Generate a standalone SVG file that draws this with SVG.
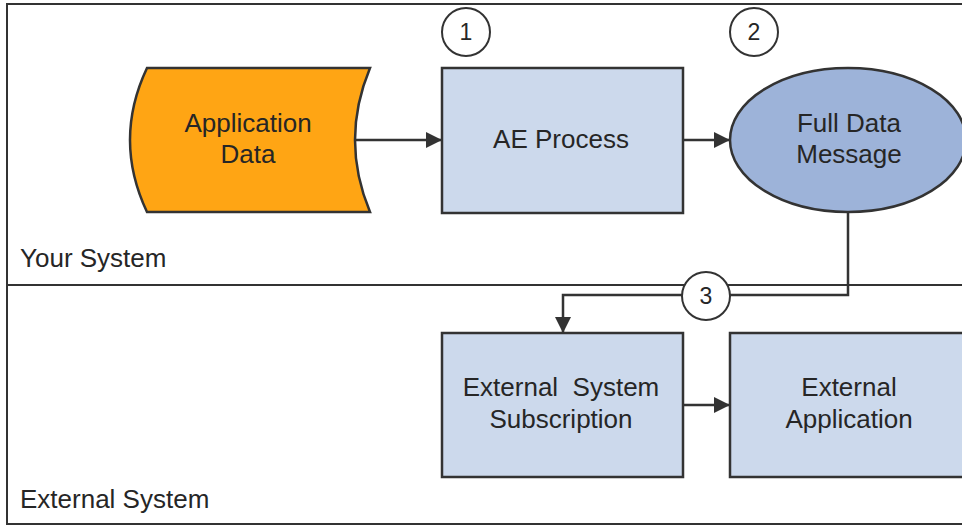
<svg xmlns="http://www.w3.org/2000/svg" width="962" height="527" viewBox="0 0 962 527">
<defs>
<style>
.t{font-family:"Liberation Sans",Arial,sans-serif;font-size:26px;fill:#262626;text-anchor:middle;white-space:pre}
.lbl{font-family:"Liberation Sans",Arial,sans-serif;font-size:26px;fill:#262626}
.num{font-family:"Liberation Sans",Arial,sans-serif;font-size:23px;fill:#262626;text-anchor:middle}
.frame{stroke:#333;stroke-width:2;fill:none}
.node{stroke:#333;stroke-width:2.5}
.box{fill:#CCD9EC}
.conn{stroke:#333;stroke-width:2.5;fill:none;marker-end:url(#ah)}
.badge{fill:#fff;stroke:#333;stroke-width:2}
</style>
<marker id="ah" markerUnits="userSpaceOnUse" markerWidth="17" markerHeight="16" refX="16" refY="8" orient="auto">
<path d="M0,0 L16,8 L0,16 z" fill="#333"/>
</marker>
</defs>
<rect width="962" height="527" fill="#fff"/>
<g id="frame">
<path class="frame" d="M962,4 H7 V524 H962"/>
<path class="frame" d="M7,285 H962" stroke-width="2.5"/>
<text class="lbl" x="20" y="267">Your System</text>
<text class="lbl" x="20" y="508">External System</text>
</g>
<g id="connectors">
<path class="conn" d="M355,140 H442"/>
<path class="conn" d="M684,140 H730"/>
<path class="conn" d="M848,212 V295 H563 V333"/>
<path class="conn" d="M683,405 H730"/>
</g>
<g id="application-data">
<path class="node" fill="#FFA514" d="M147,68 L370,68 Q340,140 370,212 L147,212 Q113,140 147,68 Z"/>
<text class="t" x="248" y="132">Application</text>
<text class="t" x="248" y="163">Data</text>
</g>
<g id="ae-process">
<rect class="node box" x="442" y="68" width="241" height="145"/>
<text class="t" x="561" y="148">AE Process</text>
</g>
<g id="full-data-message">
<ellipse class="node" fill="#9DB3D9" cx="848" cy="140" rx="118" ry="72"/>
<text class="t" x="849" y="132">Full Data</text>
<text class="t" x="849" y="163">Message</text>
</g>
<g id="external-system-subscription">
<rect class="node box" x="442" y="333" width="241" height="144"/>
<text class="t" x="561" y="396">External  System</text>
<text class="t" x="561" y="428">Subscription</text>
</g>
<g id="external-application">
<rect class="node box" x="730" y="333" width="241" height="144"/>
<text class="t" x="849" y="396">External</text>
<text class="t" x="849" y="428">Application</text>
</g>
<g id="step-1">
<circle class="badge" cx="466" cy="32" r="24"/>
<text class="num" x="466" y="40">1</text>
</g>
<g id="step-2">
<circle class="badge" cx="754" cy="32" r="24"/>
<text class="num" x="754" y="40">2</text>
</g>
<g id="step-3">
<circle class="badge" cx="706" cy="296" r="24"/>
<text class="num" x="706" y="304">3</text>
</g>
</svg>
